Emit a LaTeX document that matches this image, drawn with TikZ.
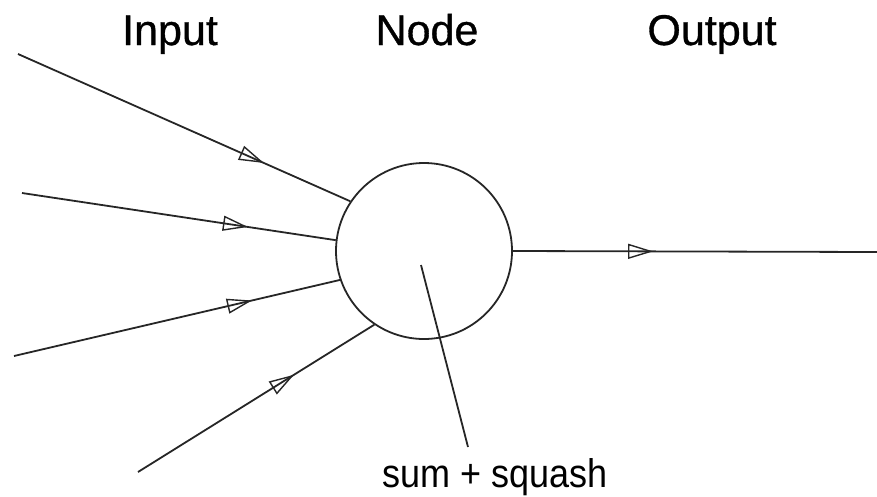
\documentclass[tikz,border=0pt]{standalone}
\usepackage{fontspec}
\setmainfont{Liberation Sans}
\newfontfamily\titlefont[FakeBold=0.8]{Liberation Sans}
\usetikzlibrary{arrows.meta,decorations.markings}
\tikzset{
  wire/.style={line width=1.8pt, draw=black!85},
  midarrow/.style={postaction={decorate}, decoration={markings,
      mark=at position #1 with {\arrow[line width=1.4pt]{Triangle[open,length=25pt,width=15pt]}}}},
  title/.style={anchor=base, inner sep=0pt, font=\titlefont\fontsize{43}{50}\selectfont},
  lbl/.style={anchor=base, inner sep=0pt, font=\fontsize{40}{46}\selectfont},
  neuron/.style={circle, draw=black!85, line width=1.8pt, minimum size=176pt, inner sep=0pt},
}
\begin{document}
\begin{tikzpicture}[x=1pt,y=-1pt]
  \useasboundingbox (0,0) rectangle (877,496);
  \node[title] (tin) at (170,45) {Input};
  \node[title] (tnode) at (427,45) {Node};
  \node[title] (tout) at (712,45) {Output};
  \node[neuron] (n) at (424,251) {};
  \coordinate (i1) at (18,54);
  \coordinate (i2) at (22,193);
  \coordinate (i3) at (14,356);
  \coordinate (i4) at (138,472);
  \coordinate (o) at (877,252);
  \draw[wire, midarrow=0.74] (i1) -- (n.146.7);
  \draw[wire, midarrow=0.72] (i2) -- (n.173.6);
  \draw[wire, midarrow=0.73] (i3) -- (n.199);
  \draw[wire, midarrow=0.66] (i4) -- (n.236);
  \draw[wire, midarrow=0.385] (n.east) -- (o);
  \node[lbl] (sq) at (495,487) {\scalebox{0.9}[1]{sum + squash}};
  \coordinate (c) at (421,265);
  \coordinate (lp) at (468,447);
  \draw[wire] (c) -- (lp);
\end{tikzpicture}
\end{document}
